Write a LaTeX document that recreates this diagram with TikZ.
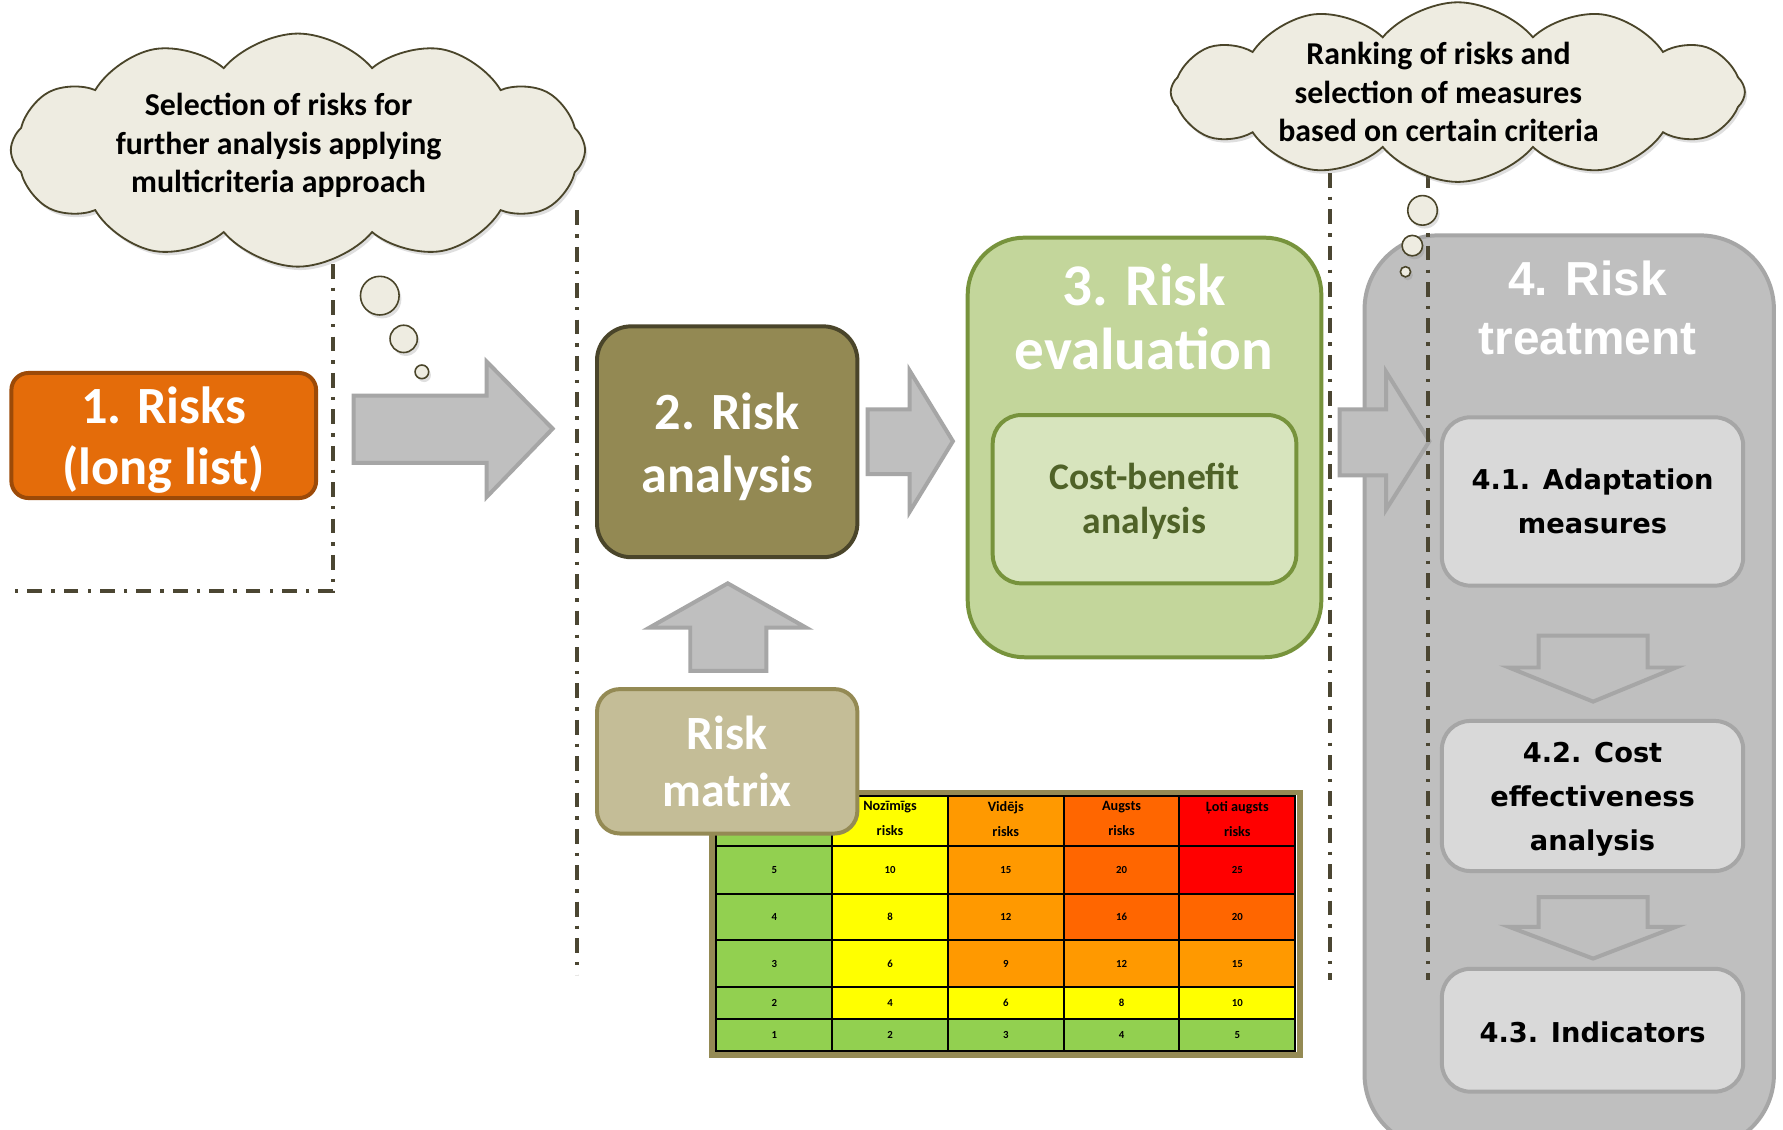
\documentclass[tikz,border=0pt]{standalone}
\usepackage{fontspec}
\setmainfont{Carlito}
\newfontfamily\wideface{DejaVu Sans}
\newfontfamily\headface{Liberation Sans}
\usetikzlibrary{shapes.symbols,shadows}

\definecolor{orangeF}{HTML}{E46C0A}
\definecolor{orangeD}{HTML}{9C4A08}
\definecolor{oliveF}{HTML}{938953}
\definecolor{oliveD}{HTML}{4A452A}
\definecolor{sandF}{HTML}{C4BD97}
\definecolor{sandD}{HTML}{948A54}
\definecolor{leafF}{HTML}{C3D69B}
\definecolor{leafL}{HTML}{D7E4BD}
\definecolor{leafD}{HTML}{77933C}
\definecolor{leafT}{HTML}{4F6228}
\definecolor{greyF}{HTML}{BFBFBF}
\definecolor{greyL}{HTML}{D9D9D9}
\definecolor{greyD}{HTML}{A6A6A6}
\definecolor{cloudF}{HTML}{EEECE1}
\definecolor{sepC}{HTML}{4B4632}
\definecolor{cG}{HTML}{92D050}
\definecolor{cY}{HTML}{FFFF00}
\definecolor{cO}{HTML}{FF9900}
\definecolor{cD}{HTML}{FF6600}
\definecolor{cR}{HTML}{FF0000}

\begin{document}
\begin{tikzpicture}[x=1pt,y=-1pt,
  softshadow/.style={drop shadow={shadow xshift=2pt,shadow yshift=-3pt,opacity=0.25}},
  thought/.style={shape=cloud,cloud puffs=12,cloud puff arc=100,cloud ignores aspect,
    fill=cloudF,draw=oliveD,line width=1.6pt,inner sep=0pt,softshadow},
  bubble/.style={circle,fill=cloudF,draw=oliveD,line width=1.4pt,inner sep=0pt,softshadow},
  cloudtext/.style={align=center,font=\bfseries\fontsize{28}{34}\selectfont,text=black},
  stagebox/.style={rounded corners=#1,line width=3.5pt,inner sep=0pt,align=center,text=white},
  inlabel/.style={align=center,inner sep=0pt},
  subbox/.style={rounded corners=25pt,line width=3.5pt,fill=greyL,draw=greyD,inner sep=0pt,
    minimum width=265pt,align=center,text=black,font=\wideface\bfseries\fontsize{24}{39}\selectfont},
  blockarrow/.style={fill=greyF,draw=greyD,line width=3.5pt,line join=miter},
  sepline/.style={draw=sepC,line width=3.5pt,dash pattern=on 13pt off 8pt on 3pt off 8pt},
  cell/.style={draw=black,line width=1.8pt,inner sep=0pt,minimum width=101.8pt,
    font=\bfseries\fontsize{9.5}{11}\selectfont,text=black},
  headfont/.style={font=\bfseries\fontsize{12.5}{22}\selectfont}
]
\clip (0,0) rectangle (1568,993);
\fill[white] (0,0) rectangle (1568,993);

% ---- left thought cloud and its separators (lines start under the cloud)
\coordinate (l1a) at (293,200);
\coordinate (l1b) at (293,520);
\coordinate (l1c) at (10,520);
\draw[sepline] (l1a) -- (l1b) -- (l1c);
\coordinate (l2a) at (507,185);
\coordinate (l2b) at (507,857);
\draw[sepline] (l2a) -- (l2b);

\node[thought,minimum width=505pt,minimum height=205pt] (cloudA) at (262,132) {};
\node[cloudtext] (cloudAtext) at (245,128) {Selection of risks for\\further analysis applying\\multicriteria approach};
\node[bubble,minimum size=34pt] (bubA1) at (334,260) {};
\node[bubble,minimum size=24pt] (bubA2) at (355,298) {};
\node[bubble,minimum size=12pt] (bubA3) at (371,327) {};

% ---- stage 1
\node[stagebox=15pt,fill=orangeF,draw=orangeD,minimum width=268pt,minimum height=110pt,
  label={[inlabel,text=white,yshift=-4pt,font=\bfseries\fontsize{46}{54}\selectfont]center:{1. Risks\\(long list)}}] (risks) at (144,383) {};

% arrow 1 -> 2
\draw[blockarrow] (311,348) -- (428,348) -- (428,318) -- (486,377) -- (428,437) -- (428,407) -- (311,407) -- cycle;

% ---- stage 2
\node[stagebox=30pt,fill=oliveF,draw=oliveD,minimum width=229pt,minimum height=203pt,
  label={[inlabel,text=white,yshift=-4.5pt,font=\bfseries\fontsize{46}{56}\selectfont]center:{2. Risk\\analysis}}] (analysis) at (639.5,388.5) {};

% arrow 2 -> 3
\draw[blockarrow] (763,360) -- (800,360) -- (800,326) -- (838,388) -- (800,450) -- (800,417) -- (763,417) -- cycle;

% arrow matrix -> analysis
\draw[blockarrow] (607,590) -- (607,552) -- (571,552) -- (640,513) -- (709,552) -- (674,552) -- (674,590) -- cycle;

% ---- risk matrix table
\draw[draw=sandD,line width=5pt] (626,697) rectangle (1143,928);
\foreach \col/\txt [count=\i from 0] in {cG/{},cY/{Nozīmīgs\\risks},cO/{Vidējs\\risks},cD/{Augsts\\risks},cR/{Ļoti augsts\\risks}}
  \node[cell,fill=\col,minimum height=44pt,
    label={[inlabel,headfont,yshift=2pt]center:{\txt}}] (mh-\i) at ({680.9+101.8*\i},722) {};
\foreach \col/\txt [count=\i from 0] in {cG/5,cY/10,cO/15,cD/20,cR/25}
  \node[cell,fill=\col,minimum height=42pt] (m5-\i) at ({680.9+101.8*\i},765) {\txt};
\foreach \col/\txt [count=\i from 0] in {cG/4,cY/8,cO/12,cD/16,cD/20}
  \node[cell,fill=\col,minimum height=41pt] (m4-\i) at ({680.9+101.8*\i},806.5) {\txt};
\foreach \col/\txt [count=\i from 0] in {cG/3,cY/6,cO/9,cO/12,cO/15}
  \node[cell,fill=\col,minimum height=41pt] (m3-\i) at ({680.9+101.8*\i},847.5) {\txt};
\foreach \col/\txt [count=\i from 0] in {cG/2,cY/4,cY/6,cY/8,cY/10}
  \node[cell,fill=\col,minimum height=28pt] (m2-\i) at ({680.9+101.8*\i},882) {\txt};
\foreach \col/\txt [count=\i from 0] in {cG/1,cG/2,cG/3,cG/4,cG/5}
  \node[cell,fill=\col,minimum height=28pt] (m1-\i) at ({680.9+101.8*\i},910) {\txt};

\node[stagebox=20pt,fill=sandF,draw=sandD,minimum width=229pt,minimum height=127pt,
  font=\bfseries\fontsize{42}{50}\selectfont] (matrix) at (639.5,669.5) {Risk\\matrix};

% ---- stage 3
\node[stagebox=50pt,fill=leafF,draw=leafD,minimum width=311pt,minimum height=369pt] (evaluation) at (1006.5,393.5) {};
\node[align=center,text=white,font=\bfseries\fontsize{52}{56}\selectfont] (evaltitle) at (1006,279) {3. Risk\\evaluation};
\node[stagebox=25pt,fill=leafL,draw=leafD,minimum width=267pt,minimum height=148pt,
  label={[inlabel,text=leafT,yshift=-2pt,font=\bfseries\fontsize{33}{39}\selectfont]center:{Cost-benefit\\analysis}}] (cba) at (1006.5,439) {};

% ---- stage 4
\node[stagebox=65pt,fill=greyF,draw=greyD,minimum width=360pt,minimum height=803pt] (treatment) at (1380,608.5) {};
\node[align=center,text=white,font=\headface\bfseries\fontsize{42}{52}\selectfont] (treattitle) at (1396,271) {4. Risk\\treatment};
\node[subbox,minimum height=148pt] (adapt) at (1400.5,441) {4.1. Adaptation\\measures};
\node[subbox,minimum height=132pt,
  label={[inlabel,yshift=-3pt,font=\wideface\bfseries\fontsize{24}{39}\selectfont]center:{4.2. Cost\\effectiveness\\analysis}}] (costeff) at (1400.5,700) {};
\node[subbox,minimum height=108pt,
  label={[inlabel,yshift=-2pt,font=\wideface\bfseries\fontsize{24}{39}\selectfont]center:{4.3. Indicators}}] (indic) at (1400.5,906) {};

\draw[blockarrow] (1353,559) -- (1449,559) -- (1449,587) -- (1474,587) -- (1401,617) -- (1327,587) -- (1353,587) -- cycle;
\draw[blockarrow] (1353,789) -- (1449,789) -- (1449,815) -- (1474,815) -- (1401,843) -- (1327,815) -- (1353,815) -- cycle;

% arrow 3 -> 4
\draw[blockarrow] (1178,360) -- (1219,360) -- (1219,327) -- (1257,388) -- (1219,448) -- (1219,418) -- (1178,418) -- cycle;

% ---- right thought cloud and its separators (lines start under the cloud)
\coordinate (l3a) at (1170,120);
\coordinate (l3b) at (1170,862);
\coordinate (l4a) at (1256,120);
\coordinate (l4b) at (1256,862);
\draw[sepline] (l3a) -- (l3b);
\draw[sepline] (l4a) -- (l4b);

\node[thought,minimum width=505pt,minimum height=158pt] (cloudB) at (1282,81) {};
\node[cloudtext] (cloudBtext) at (1265,81) {Ranking of risks and\\selection of measures\\based on certain criteria};
\node[bubble,minimum size=26pt] (bubB1) at (1251,185) {};
\node[bubble,minimum size=18pt] (bubB2) at (1242,216) {};
\node[bubble,minimum size=9pt] (bubB3) at (1236,239) {};
\end{tikzpicture}
\end{document}
